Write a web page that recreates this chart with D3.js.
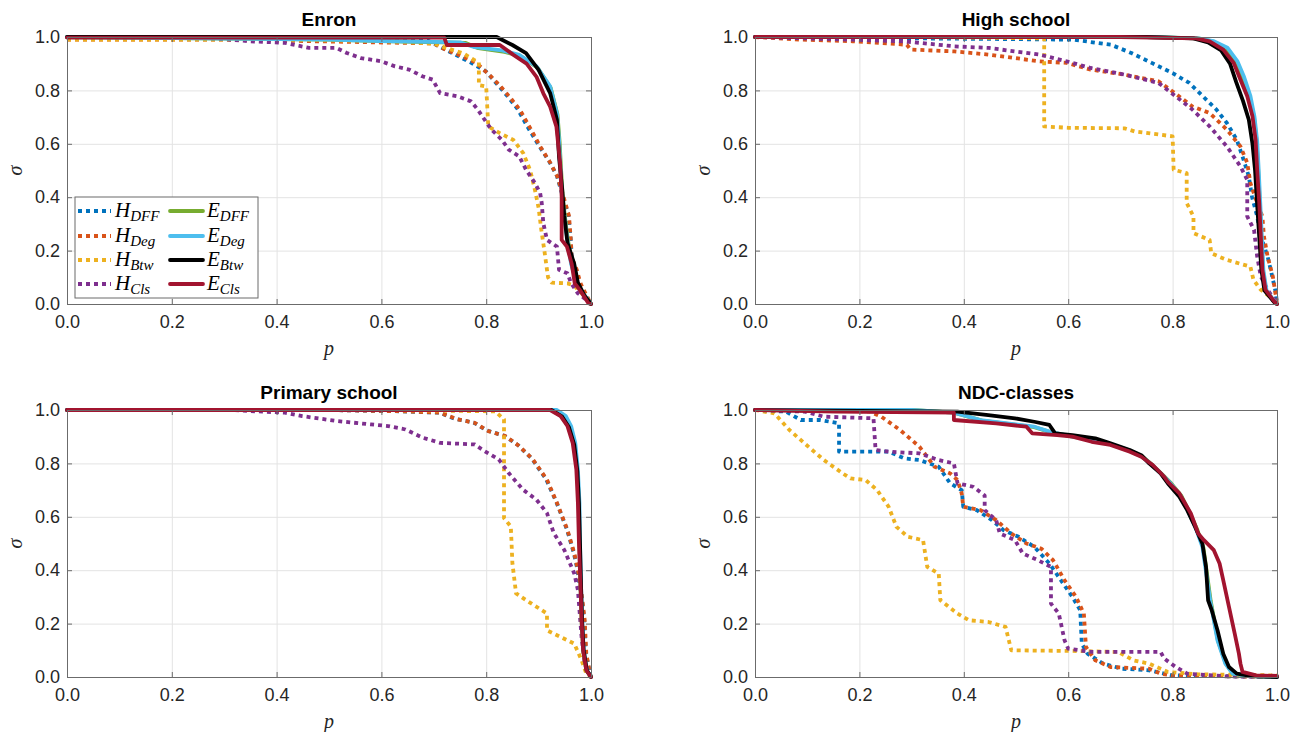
<!DOCTYPE html>
<html>
<head>
<meta charset="utf-8">
<script src="https://cdn.jsdelivr.net/npm/d3@7"></script>
<style>
  body { margin: 0; background: #fff; }
  svg { display: block; }
</style>
</head>
<body>
<svg id="fig" width="1307" height="732"></svg>
<script>
// ---- tick values ----
const pTicks = [0, 0.2, 0.4, 0.6, 0.8, 1.0];
const sTicks = [0, 0.2, 0.4, 0.6, 0.8, 1.0];

// ---- series names and colours ----
const seriesKeys = ["HDFF", "HDeg", "HBtw", "HCls", "EDFF", "EDeg", "EBtw", "ECls"];
const seriesBase = ["H", "H", "H", "H", "E", "E", "E", "E"];
const seriesSub  = ["DFF", "Deg", "Btw", "Cls", "DFF", "Deg", "Btw", "Cls"];
const seriesColors = ["#0072BD", "#D95319", "#EDB120", "#7E2F8E", "#77AC30", "#4DBEEE", "#000000", "#A2142F"];
const seriesDotted = [true, true, true, true, false, false, false, false];

// ---- Enron: [p, sigma] ----
const enronHDFF = [[0,0.995],[0.3,0.993],[0.5,0.99],[0.69,0.985],[0.71,0.965],[0.74,0.935],[0.77,0.905],[0.80,0.87],[0.82,0.825],[0.84,0.78],[0.86,0.73],[0.88,0.66],[0.90,0.595],[0.92,0.535],[0.935,0.48],[0.948,0.39],[0.957,0.33],[0.961,0.25],[0.964,0.16],[0.974,0.08],[0.99,0.03],[1,0]];
const enronHDeg = [[0,0.99],[0.3,0.99],[0.45,0.985],[0.70,0.976],[0.72,0.955],[0.745,0.935],[0.78,0.905],[0.805,0.86],[0.825,0.82],[0.845,0.775],[0.865,0.725],[0.885,0.655],[0.903,0.59],[0.922,0.53],[0.936,0.476],[0.95,0.385],[0.958,0.33],[0.961,0.252],[0.963,0.175],[0.973,0.127],[0.98,0.077],[0.992,0.03],[1,0]];
const enronHBtw = [[0,0.99],[0.4,0.99],[0.6,0.985],[0.70,0.975],[0.73,0.955],[0.756,0.939],[0.776,0.915],[0.786,0.905],[0.786,0.82],[0.80,0.815],[0.804,0.665],[0.826,0.64],[0.852,0.614],[0.871,0.564],[0.884,0.5],[0.893,0.427],[0.900,0.36],[0.905,0.28],[0.911,0.2],[0.918,0.1],[0.925,0.08],[0.955,0.077],[0.967,0.07],[0.98,0.045],[1,0]];
const enronHCls = [[0,1],[0.27,0.996],[0.35,0.984],[0.416,0.978],[0.462,0.959],[0.514,0.959],[0.534,0.94],[0.561,0.921],[0.6,0.909],[0.626,0.89],[0.653,0.878],[0.678,0.853],[0.698,0.84],[0.712,0.79],[0.745,0.778],[0.771,0.759],[0.784,0.728],[0.797,0.69],[0.81,0.653],[0.83,0.615],[0.843,0.578],[0.863,0.553],[0.876,0.503],[0.893,0.453],[0.903,0.415],[0.906,0.378],[0.909,0.303],[0.916,0.24],[0.935,0.215],[0.939,0.128],[0.955,0.115],[0.962,0.078],[0.975,0.04],[0.995,0.01],[1,0]];
const enronEDFF = [[0,1],[0.5,0.99],[0.6,0.985],[0.76,0.978],[0.785,0.958],[0.835,0.944],[0.866,0.928],[0.898,0.885],[0.923,0.81],[0.936,0.71],[0.94,0.61],[0.943,0.5],[0.946,0.4],[0.953,0.28],[0.963,0.15],[0.976,0.062],[1,0]];
const enronEDeg = [[0,1],[0.5,0.99],[0.6,0.985],[0.75,0.98],[0.778,0.962],[0.83,0.95],[0.863,0.933],[0.896,0.89],[0.922,0.815],[0.935,0.715],[0.939,0.615],[0.942,0.5],[0.945,0.4],[0.952,0.28],[0.962,0.15],[0.975,0.065],[1,0]];
const enronEBtw = [[0,1],[0.45,1],[0.82,1],[0.85,0.97],[0.876,0.94],[0.90,0.877],[0.922,0.79],[0.935,0.69],[0.939,0.55],[0.945,0.43],[0.949,0.33],[0.955,0.23],[0.968,0.15],[0.975,0.08],[0.988,0.03],[1,0]];
const enronECls = [[0,0.998],[0.72,0.998],[0.725,0.97],[0.826,0.97],[0.852,0.933],[0.877,0.90],[0.896,0.851],[0.909,0.789],[0.922,0.739],[0.934,0.664],[0.941,0.528],[0.944,0.402],[0.944,0.24],[0.954,0.215],[0.963,0.152],[0.969,0.077],[0.979,0.052],[0.995,0.003],[1,0]];

// ---- High school ----
const hsHDFF = [[0,1],[0.3,0.995],[0.5,0.992],[0.61,0.99],[0.682,0.971],[0.721,0.94],[0.76,0.903],[0.80,0.865],[0.832,0.828],[0.858,0.778],[0.884,0.728],[0.904,0.678],[0.923,0.615],[0.936,0.54],[0.946,0.478],[0.952,0.403],[0.962,0.328],[0.969,0.253],[0.982,0.178],[0.988,0.128],[0.998,0.04],[1,0]];
const hsHDeg = [[0,1],[0.089,0.99],[0.187,0.984],[0.291,0.971],[0.298,0.953],[0.382,0.946],[0.448,0.934],[0.545,0.909],[0.597,0.903],[0.643,0.878],[0.708,0.859],[0.773,0.834],[0.80,0.796],[0.838,0.74],[0.871,0.715],[0.904,0.653],[0.93,0.59],[0.943,0.528],[0.949,0.453],[0.962,0.378],[0.972,0.328],[0.975,0.253],[0.982,0.178],[0.992,0.103],[0.998,0.028],[1,0]];
const hsHBtw = [[0,1],[0.3,1],[0.554,0.995],[0.554,0.665],[0.60,0.66],[0.708,0.658],[0.728,0.646],[0.80,0.628],[0.802,0.503],[0.827,0.49],[0.827,0.378],[0.84,0.328],[0.84,0.265],[0.871,0.24],[0.874,0.19],[0.904,0.165],[0.949,0.14],[0.955,0.09],[0.969,0.053],[0.995,0.015],[1,0]];
const hsHCls = [[0,1],[0.187,0.99],[0.285,0.984],[0.382,0.965],[0.448,0.959],[0.545,0.934],[0.597,0.909],[0.643,0.884],[0.708,0.859],[0.773,0.828],[0.806,0.778],[0.838,0.728],[0.871,0.665],[0.904,0.59],[0.93,0.515],[0.943,0.465],[0.943,0.328],[0.956,0.278],[0.962,0.178],[0.969,0.103],[0.982,0.053],[0.998,0.009],[1,0]];
const hsEDFF = [[0,1],[0.75,1],[0.849,0.995],[0.876,0.984],[0.903,0.958],[0.922,0.908],[0.935,0.846],[0.947,0.78],[0.956,0.70],[0.961,0.61],[0.964,0.5],[0.967,0.375],[0.97,0.25],[0.973,0.125],[0.979,0.05],[0.995,0.008],[1,0]];
const hsEDeg = [[0,1],[0.75,1],[0.85,0.995],[0.878,0.985],[0.905,0.96],[0.924,0.91],[0.937,0.85],[0.949,0.78],[0.957,0.70],[0.962,0.61],[0.965,0.5],[0.968,0.375],[0.971,0.25],[0.974,0.125],[0.98,0.05],[0.996,0.008],[1,0]];
const hsEBtw = [[0,1],[0.75,1],[0.84,0.995],[0.868,0.98],[0.893,0.95],[0.91,0.9],[0.922,0.83],[0.935,0.76],[0.946,0.69],[0.953,0.6],[0.958,0.5],[0.962,0.37],[0.966,0.25],[0.97,0.13],[0.976,0.05],[0.994,0.008],[1,0]];
const hsECls = [[0,1],[0.7,1],[0.845,0.995],[0.871,0.984],[0.897,0.953],[0.917,0.903],[0.93,0.84],[0.943,0.778],[0.953,0.703],[0.959,0.615],[0.962,0.503],[0.966,0.378],[0.969,0.253],[0.972,0.128],[0.978,0.053],[0.995,0.009],[1,0]];

// ---- Primary school ----
const psHDFF = [[0,1],[0.5,1],[0.64,0.995],[0.71,0.99],[0.742,0.966],[0.776,0.953],[0.802,0.923],[0.835,0.903],[0.861,0.868],[0.887,0.818],[0.914,0.742],[0.934,0.655],[0.954,0.553],[0.967,0.466],[0.974,0.403],[0.981,0.315],[0.987,0.215],[0.99,0.09],[0.998,0.013],[1,0]];
const psHDeg = [[0,1],[0.5,1],[0.646,0.995],[0.712,0.99],[0.745,0.965],[0.778,0.952],[0.804,0.921],[0.837,0.902],[0.863,0.865],[0.889,0.815],[0.916,0.739],[0.935,0.652],[0.955,0.551],[0.968,0.464],[0.975,0.401],[0.982,0.313],[0.988,0.213],[0.991,0.088],[0.998,0.0125],[1,0]];
const psHBtw = [[0,1],[0.6,1],[0.817,0.995],[0.834,0.965],[0.834,0.595],[0.847,0.564],[0.85,0.426],[0.857,0.313],[0.876,0.288],[0.916,0.238],[0.916,0.175],[0.942,0.15],[0.968,0.125],[0.982,0.063],[0.991,0.0125],[1,0]];
const psHCls = [[0,1],[0.317,1],[0.35,0.996],[0.416,0.99],[0.449,0.977],[0.514,0.959],[0.58,0.946],[0.613,0.94],[0.646,0.927],[0.679,0.896],[0.712,0.877],[0.778,0.871],[0.797,0.846],[0.824,0.815],[0.843,0.764],[0.87,0.702],[0.896,0.664],[0.916,0.614],[0.929,0.539],[0.949,0.476],[0.968,0.388],[0.975,0.326],[0.978,0.251],[0.982,0.15],[0.988,0.05],[0.998,0.006],[1,0]];
const psEDFF = [[0,1],[0.93,1],[0.948,0.976],[0.96,0.938],[0.968,0.875],[0.974,0.775],[0.977,0.65],[0.978,0.5],[0.98,0.338],[0.982,0.213],[0.985,0.1],[0.991,0.025],[1,0]];
const psEDeg = [[0,1],[0.935,1],[0.952,0.977],[0.962,0.94],[0.97,0.877],[0.975,0.777],[0.978,0.652],[0.979,0.5],[0.981,0.338],[0.983,0.213],[0.986,0.1],[0.992,0.025],[1,0]];
const psEBtw = [[0,1],[0.925,1],[0.945,0.975],[0.958,0.935],[0.968,0.87],[0.974,0.77],[0.977,0.65],[0.979,0.5],[0.981,0.34],[0.983,0.21],[0.986,0.1],[0.992,0.025],[1,0]];
const psECls = [[0,1],[0.922,1],[0.942,0.977],[0.955,0.94],[0.965,0.877],[0.972,0.777],[0.975,0.652],[0.977,0.501],[0.98,0.338],[0.982,0.213],[0.985,0.1],[0.991,0.025],[1,0]];

// ---- NDC-classes ----
const ndcHDFF = [[0,1],[0.059,0.994],[0.088,0.9625],[0.125,0.9625],[0.161,0.95],[0.161,0.844],[0.256,0.844],[0.286,0.819],[0.315,0.8125],[0.352,0.7875],[0.374,0.725],[0.396,0.70],[0.399,0.6375],[0.425,0.625],[0.454,0.5875],[0.476,0.55],[0.505,0.525],[0.535,0.4875],[0.564,0.425],[0.586,0.3625],[0.608,0.30],[0.623,0.25],[0.626,0.125],[0.637,0.0875],[0.667,0.05],[0.703,0.031],[0.755,0.025],[0.799,0.006],[1,0]];
const ndcHDeg = [[0,1],[0.22,0.995],[0.227,0.9875],[0.242,0.975],[0.278,0.925],[0.315,0.8625],[0.344,0.7875],[0.374,0.7625],[0.388,0.7375],[0.396,0.6875],[0.399,0.6375],[0.432,0.625],[0.462,0.5875],[0.491,0.5375],[0.52,0.50],[0.549,0.48],[0.571,0.4375],[0.593,0.3625],[0.615,0.30],[0.63,0.2375],[0.634,0.1125],[0.652,0.0625],[0.681,0.0375],[0.755,0.031],[0.777,0.0125],[0.799,0.006],[1,0]];
const ndcHBtw = [[0,1],[0.037,0.9875],[0.066,0.925],[0.095,0.875],[0.132,0.8125],[0.168,0.7625],[0.183,0.744],[0.212,0.7375],[0.234,0.70],[0.256,0.6375],[0.271,0.5625],[0.293,0.525],[0.322,0.5125],[0.33,0.4125],[0.352,0.3875],[0.355,0.2875],[0.388,0.2375],[0.41,0.2125],[0.447,0.206],[0.48,0.1875],[0.491,0.10],[0.608,0.0975],[0.696,0.094],[0.725,0.0625],[0.755,0.05],[0.791,0.019],[0.85,0.01],[1,0.006]];
const ndcHCls = [[0,1],[0.095,0.994],[0.132,0.975],[0.227,0.969],[0.231,0.85],[0.256,0.844],[0.315,0.8375],[0.352,0.8125],[0.381,0.80],[0.388,0.725],[0.418,0.7125],[0.44,0.68],[0.44,0.625],[0.462,0.5875],[0.469,0.5375],[0.498,0.5125],[0.513,0.4625],[0.542,0.4375],[0.567,0.4125],[0.567,0.275],[0.582,0.2375],[0.593,0.1375],[0.60,0.106],[0.645,0.094],[0.777,0.094],[0.784,0.069],[0.806,0.0375],[0.828,0.0125],[0.901,0.0025],[1,0]];
const ndcEDFF = [[0,1],[0.30,1],[0.381,0.99],[0.435,0.96],[0.535,0.936],[0.566,0.917],[0.61,0.899],[0.655,0.888],[0.683,0.87],[0.72,0.846],[0.742,0.826],[0.762,0.793],[0.782,0.755],[0.797,0.726],[0.817,0.678],[0.832,0.618],[0.847,0.553],[0.859,0.485],[0.873,0.285],[0.887,0.135],[0.902,0.05],[0.916,0.012],[0.95,0.003],[1,0]];
const ndcEDeg = [[0,1],[0.30,1],[0.381,0.99],[0.432,0.9625],[0.535,0.9375],[0.564,0.919],[0.608,0.90],[0.652,0.89],[0.681,0.872],[0.718,0.848],[0.74,0.828],[0.76,0.795],[0.78,0.757],[0.795,0.728],[0.815,0.68],[0.83,0.62],[0.845,0.555],[0.857,0.4875],[0.872,0.2875],[0.886,0.1375],[0.901,0.05],[0.915,0.0125],[0.95,0.003],[1,0]];
const ndcEBtw = [[0,1],[0.388,0.994],[0.447,0.981],[0.498,0.969],[0.535,0.956],[0.564,0.944],[0.575,0.9125],[0.608,0.906],[0.652,0.894],[0.681,0.875],[0.718,0.85],[0.74,0.831],[0.755,0.80],[0.777,0.7625],[0.791,0.725],[0.813,0.675],[0.828,0.625],[0.843,0.5625],[0.857,0.50],[0.864,0.4125],[0.868,0.2875],[0.875,0.25],[0.886,0.175],[0.897,0.0875],[0.908,0.0375],[0.923,0.0125],[0.952,0.003],[1,0]];
const ndcECls = [[0,1],[0.154,0.994],[0.381,0.99],[0.381,0.9625],[0.462,0.95],[0.52,0.9375],[0.531,0.9125],[0.579,0.906],[0.608,0.90],[0.645,0.881],[0.681,0.869],[0.718,0.844],[0.74,0.825],[0.762,0.794],[0.784,0.75],[0.791,0.731],[0.813,0.6875],[0.835,0.6125],[0.849,0.5375],[0.86,0.5125],[0.879,0.475],[0.89,0.425],[0.897,0.3625],[0.908,0.2625],[0.919,0.1625],[0.927,0.0875],[0.93,0.05],[0.934,0.019],[0.96,0.006],[1,0.004]];

// ---- panel layout: [left, right, top, bottom] ----
const panels = [
  { title: "Enron",          box: [67, 591, 37, 304],  data: [enronHDFF, enronHDeg, enronHBtw, enronHCls, enronEDFF, enronEDeg, enronEBtw, enronECls], legend: true },
  { title: "High school",    box: [755, 1277, 37, 304], data: [hsHDFF, hsHDeg, hsHBtw, hsHCls, hsEDFF, hsEDeg, hsEBtw, hsECls] },
  { title: "Primary school", box: [67, 591, 410, 677], data: [psHDFF, psHDeg, psHBtw, psHCls, psEDFF, psEDeg, psEBtw, psECls] },
  { title: "NDC-classes",    box: [755, 1277, 410, 677], data: [ndcHDFF, ndcHDeg, ndcHBtw, ndcHCls, ndcEDFF, ndcEDeg, ndcEBtw, ndcECls] }
];

const svg = d3.select("#fig");
const axisColor = "#6b6b6b";
const textColor = "#262626";
const gridColor = "#e3e3e3";
const tickFont = "Liberation Sans, Arial, sans-serif";
const mathFont = "Liberation Serif, Times New Roman, serif";
const fmt = d3.format(".1f");

function styleAxis(sel) {
  sel.select(".domain").attr("stroke", axisColor).attr("stroke-width", 1);
  sel.selectAll(".tick line").attr("stroke", axisColor).attr("stroke-width", 1);
  sel.selectAll(".tick text").attr("fill", textColor).attr("font-family", tickFont).attr("font-size", 18);
}

function lineStyle(path, i) {
  path.attr("fill", "none")
    .attr("stroke", seriesColors[i])
    .attr("stroke-width", 3.8)
    .attr("stroke-linejoin", "round")
    .attr("stroke-linecap", seriesDotted[i] ? "butt" : "round");
  if (seriesDotted[i]) path.attr("stroke-dasharray", "4,4");
}

panels.forEach(pn => {
  const [x0, x1, y0, y1] = pn.box;
  const x = d3.scaleLinear().domain([0, 1]).range([x0, x1]);
  const y = d3.scaleLinear().domain([0, 1]).range([y1, y0]);
  const g = svg.append("g");

  // grid
  g.append("g").attr("transform", `translate(0,${y1})`)
    .call(d3.axisBottom(x).tickValues(pTicks).tickSize(-(y1 - y0)).tickFormat(""))
    .call(s => { s.select(".domain").remove(); s.selectAll("line").attr("stroke", gridColor); });
  g.append("g").attr("transform", `translate(${x0},0)`)
    .call(d3.axisLeft(y).tickValues(sTicks).tickSize(-(x1 - x0)).tickFormat(""))
    .call(s => { s.select(".domain").remove(); s.selectAll("line").attr("stroke", gridColor); });

  // curves
  const line = d3.line().x(d => x(d[0])).y(d => y(d[1]));
  pn.data.forEach((series, i) => {
    g.append("path").datum(series).attr("d", line).call(p => lineStyle(p, i));
  });

  // box with inward ticks
  g.append("g").attr("transform", `translate(0,${y1})`)
    .call(d3.axisBottom(x).tickValues(pTicks).tickSize(-5).tickSizeOuter(0).tickPadding(11).tickFormat(fmt))
    .call(styleAxis);
  g.append("g").attr("transform", `translate(${x0},0)`)
    .call(d3.axisLeft(y).tickValues(sTicks).tickSize(-5).tickSizeOuter(0).tickPadding(7).tickFormat(fmt))
    .call(styleAxis);
  g.append("g").attr("transform", `translate(0,${y0})`)
    .call(d3.axisTop(x).tickValues(pTicks).tickSize(-5).tickSizeOuter(0).tickFormat(""))
    .call(styleAxis);
  g.append("g").attr("transform", `translate(${x1},0)`)
    .call(d3.axisRight(y).tickValues(sTicks).tickSize(-5).tickSizeOuter(0).tickFormat(""))
    .call(styleAxis);

  // title and axis labels
  g.append("text").attr("x", (x0 + x1) / 2).attr("y", y0 - 11)
    .attr("text-anchor", "middle").attr("font-family", tickFont).attr("font-weight", "bold")
    .attr("font-size", 19).attr("fill", "#000").text(pn.title);
  g.append("text").attr("x", (x0 + x1) / 2).attr("y", y1 + 51)
    .attr("text-anchor", "middle").attr("font-family", mathFont).attr("font-style", "italic")
    .attr("font-size", 20).attr("fill", textColor).text("p");
  g.append("text").attr("transform", `translate(${x0 - 45},${(y0 + y1) / 2}) rotate(-90)`)
    .attr("text-anchor", "middle").attr("font-family", mathFont).attr("font-style", "italic")
    .attr("font-size", 20).attr("fill", textColor).text("σ");

  // legend
  if (pn.legend) {
    const lg = g.append("g");
    lg.append("rect").attr("x", 75).attr("y", 197).attr("width", 183).attr("height", 101)
      .attr("fill", "#fff").attr("stroke", axisColor).attr("stroke-width", 1);
    const rowY = [211, 236, 260, 284];
    seriesKeys.forEach((k, i) => {
      const col = i < 4 ? 0 : 1;
      const row = i % 4;
      const lx = col === 0 ? 78 : 170;
      const ly = rowY[row];
      const sample = lg.append("path").attr("d", d3.line()([[lx, ly], [lx + 33, ly]]));
      lineStyle(sample, i);
      const t = lg.append("text").attr("x", lx + 37).attr("y", ly + 6)
        .attr("font-family", mathFont).attr("font-style", "italic").attr("fill", "#000");
      t.append("tspan").attr("font-size", 21).text(seriesBase[i]);
      t.append("tspan").attr("font-size", 15).attr("dy", 4).text(seriesSub[i]);
    });
  }
});
</script>
</body>
</html>
